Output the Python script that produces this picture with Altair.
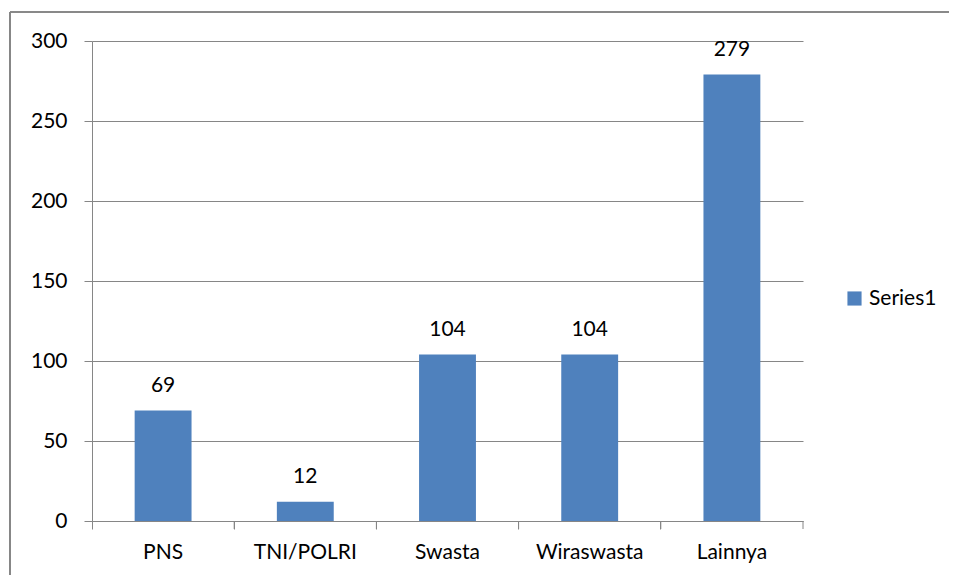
import altair as alt
import pandas as pd

categories = ["PNS", "TNI/POLRI", "Swasta", "Wiraswasta", "Lainnya"]
values = [69, 12, 104, 104, 279]
series_name = "Series1"
y_ticks = [0, 50, 100, 150, 200, 250, 300]

df = pd.DataFrame({"cat": categories, "val": values, "series": [series_name] * len(categories)})

W, H = 711, 480
FONT = "Lato"
FS = 21
GRAY = "#868686"
BLUE = "#4F81BD"

x_axis = alt.Axis(title=None, labelAngle=0, bandPosition=0, tickColor=GRAY, tickSize=8,
                  domainColor=GRAY, labelFont=FONT, labelFontSize=FS, labelColor="black",
                  labelPadding=12, grid=False)
x_scale = alt.Scale(paddingInner=0, paddingOuter=0)

x_enc = alt.X("cat:N", sort=categories, scale=x_scale, axis=x_axis)
y_enc = alt.Y(
    "val:Q",
    scale=alt.Scale(domain=[0, 300], nice=False),
    axis=alt.Axis(title=None, values=y_ticks, grid=True, gridColor=GRAY, tickColor=GRAY,
                  tickSize=8, domainColor=GRAY, labelFont=FONT, labelFontSize=FS,
                  labelColor="black", labelPadding=17),
)

base = alt.Chart(df)

bars = base.mark_bar(width=alt.RelativeBandSize(0.4)).encode(
    x=x_enc, y=y_enc,
    color=alt.Color("series:N", scale=alt.Scale(range=[BLUE]),
                    legend=alt.Legend(title=None, orient="none", legendX=752, legendY=247,
                                      symbolType="square", symbolSize=200, symbolStrokeWidth=0,
                                      labelFont=FONT, labelFontSize=FS, labelColor="black")),
)

labels = base.mark_text(baseline="alphabetic", dy=-19, font=FONT, fontSize=FS, color="black").encode(
    x=alt.X("cat:N", sort=categories, scale=x_scale, axis=x_axis), y="val:Q", text="val:Q"
)

end_ticks = base.mark_rule(color=GRAY).encode(
    x=alt.X("cat:N", sort=categories, bandPosition=1, scale=x_scale, axis=x_axis),
    y=alt.value(H), y2=alt.value(H + 8),
)

frame_top = base.mark_rule(color=GRAY, strokeWidth=1.2).encode(
    x=alt.value(-82), x2=alt.value(870), y=alt.value(-29)
)
frame_left = base.mark_rule(color=GRAY, strokeWidth=1.2).encode(
    x=alt.value(-82), y=alt.value(-29), y2=alt.value(560)
)

chart = alt.layer(bars, labels, end_ticks, frame_top, frame_left).properties(
    width=W, height=H,
    autosize=alt.AutoSizeParams(type="none"),
    padding={"left": 84, "top": 33, "right": 146, "bottom": 54},
).configure_view(stroke=None)

chart.save("out.html", embed_options={"renderer": "svg", "actions": False})
